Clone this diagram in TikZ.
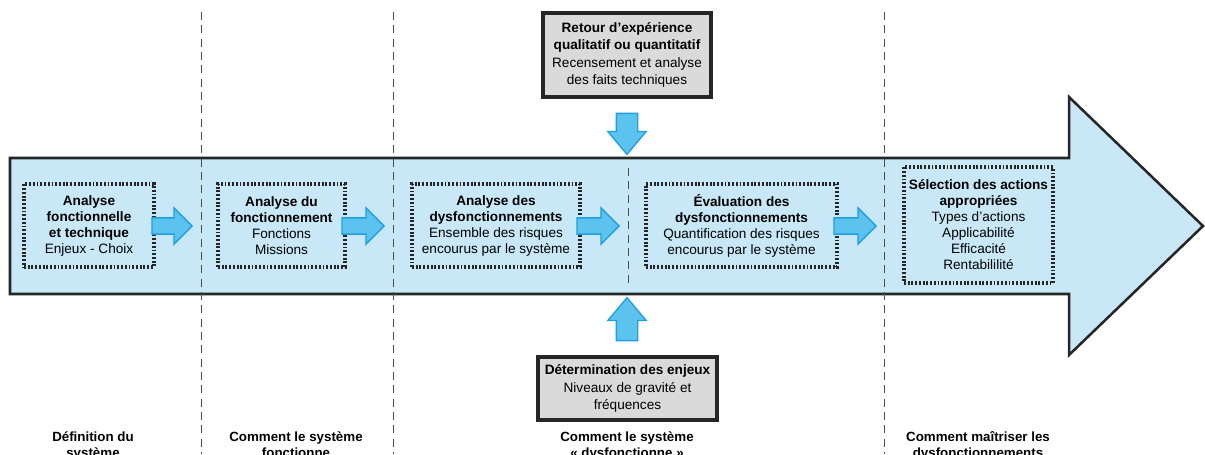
\documentclass[tikz,border=0pt]{standalone}
\usepackage{fontspec}
\setmainfont{Liberation Sans}
\usetikzlibrary{shapes.arrows}
\definecolor{fondbleu}{HTML}{C8E8F8}
\definecolor{flechebleu}{HTML}{5CC3EE}
\definecolor{traitbleu}{HTML}{1F9FDF}
\definecolor{fondgris}{HTML}{DADADA}
\tikzset{
  etape/.style={draw=black!85,line width=2.4pt,dash pattern=on 1.4pt off 1.4pt,align=center,inner sep=0pt,font=\fontsize{10.2}{12}\selectfont},
  entree/.style={draw=black!85,fill=fondgris,line width=2.5pt,align=center,inner sep=0pt,font=\fontsize{10.2}{13}\selectfont},
  fleche/.style={single arrow,draw=traitbleu,fill=flechebleu,line width=1pt,inner sep=5.6pt,minimum width=26.25pt,single arrow head extend=7.5pt},
  flechev/.style={single arrow,draw=traitbleu,fill=flechebleu,line width=1pt,inner sep=7.5pt,minimum width=27.75pt,single arrow head extend=6.4pt,single arrow tip angle=80},
  separ/.style={black!70,line width=0.6pt,dash pattern=on 6pt off 4pt},
  phase/.style={anchor=north,align=center,inner sep=0pt,font=\fontsize{10}{12}\selectfont\bfseries}
}
\begin{document}
\begin{tikzpicture}[x=0.75pt,y=-0.75pt]
\useasboundingbox(0,0)rectangle(1205,454);
\draw[draw=black!85,line width=1.9pt,fill=fondbleu](10,158)--(1069,158)--(1069,97)--(1203,226)--(1069,355)--(1069,294)--(10,294)--cycle;
\foreach \x in {201,393,884}
  \draw[separ](\x,12)--(\x,454);
\draw[separ](628,168)--(628,285);
\node[etape,minimum width=97.5pt,minimum height=62.25pt](b1)at(89,225.5){\textbf{Analyse}\\\textbf{fonctionnelle}\\\textbf{et technique}\\Enjeux - Choix};
\node[etape,minimum width=95.25pt,minimum height=62.25pt](b2)at(281.5,225.5){\textbf{Analyse du}\\\textbf{fonctionnement}\\Fonctions\\Missions};
\node[etape,minimum width=126pt,minimum height=62.25pt](b3)at(496,225.5){\textbf{Analyse des}\\\textbf{dysfonctionnements}\\Ensemble des risques\\encourus par le système};
\node[etape,minimum width=143.25pt,minimum height=62.25pt](b4)at(741.5,225.5){\textbf{Évaluation des}\\\textbf{dysfonctionnements}\\Quantification des risques\\encourus par le système};
\node[etape,minimum width=111.75pt,minimum height=87pt](b5)at(978.5,225){\textbf{Sélection des actions}\\\textbf{appropriées}\\Types d'actions\\Applicabilité\\Efficacité\\Rentabililité};
\node[entree,minimum width=126pt,minimum height=63pt](rex)at(627,55){\textbf{Retour d'expérience}\\\textbf{qualitatif ou quantitatif}\\Recensement et analyse\\des faits techniques};
\node[entree,minimum width=134.25pt,minimum height=47.25pt](enj)at(627.5,388.5){\textbf{Détermination des enjeux}\\Niveaux de gravité et\\fréquences};
\node[fleche,minimum height=30pt](f1)at(168,226){};
\node[fleche,minimum height=31.5pt](f2)at(359,226){};
\node[fleche,minimum height=31.5pt](f3)at(594,226){};
\node[fleche,minimum height=31.5pt](f4)at(851,226){};
\node[flechev,minimum height=30.75pt,rotate=-90](fh)at(627,127.5){};
\node[flechev,minimum height=32.25pt,rotate=90](fb)at(627,325.5){};
\node[phase](p1)at(93,431){Définition du\\système};
\node[phase](p2)at(296,431){Comment le système\\fonctionne};
\node[phase](p3)at(627,431){Comment le système\\« dysfonctionne »};
\node[phase](p4)at(978,431){Comment maîtriser les\\dysfonctionnements};
\end{tikzpicture}
\end{document}
